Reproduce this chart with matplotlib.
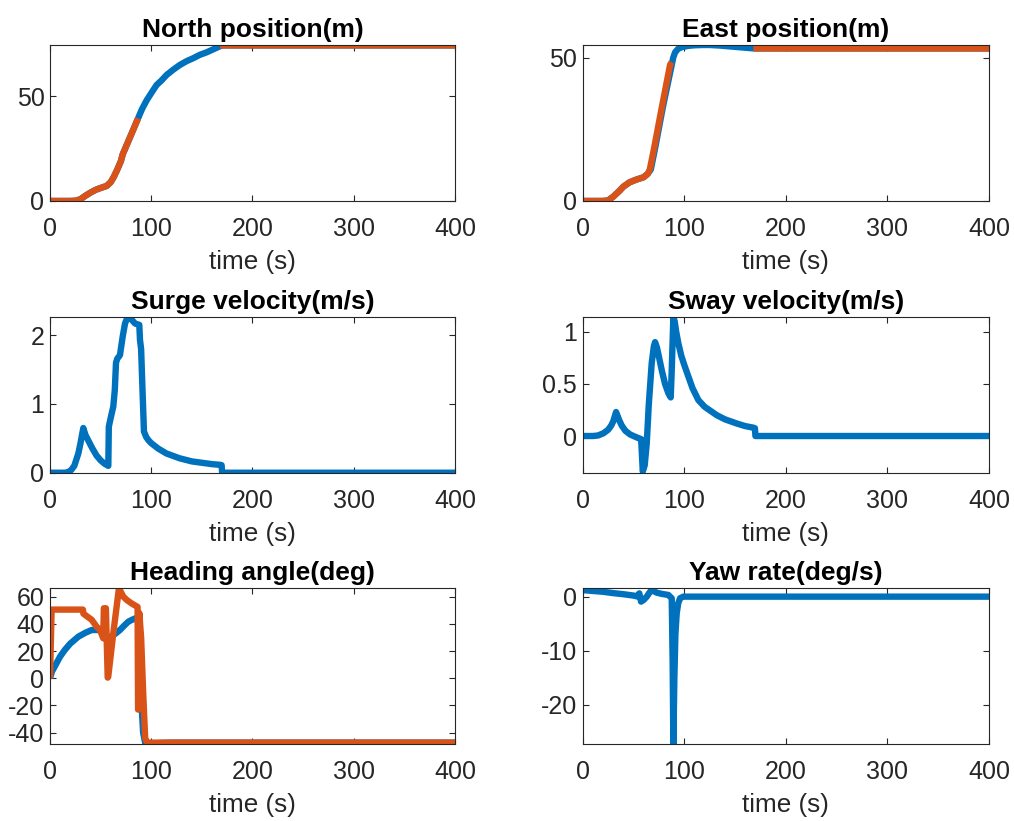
import numpy as np
import matplotlib
matplotlib.use("Agg")
import matplotlib.pyplot as plt
from matplotlib.ticker import FuncFormatter

plt.rcParams['font.family'] = ['Liberation Sans', 'DejaVu Sans']
plt.rcParams['axes.unicode_minus'] = False

BLUE = "#0072BD"
ORANGE = "#D95319"
nan = np.nan

# North position (m)
t_north = [0, 10, 20, 25, 30, 35, 40, 45, 50, 56, 60, 63, 66, 70, 72, 76, 80, 87, 91, 95.5,
           100, 105.3, 110, 115.2, 122, 128.4, 135, 141.5, 148, 154.7, 162, 167.9, 170, 400]
north = [0, 0, 0, 0.1, 0.8, 2.5, 4.0, 5.3, 6.2, 7.2, 9.0, 11.5, 14.5, 19, 22.5, 27, 31.5, 39.5, 44, 48.1,
         51.5, 55.4, 57.5, 60.2, 62.8, 65.0, 66.8, 68.2, 69.8, 71.0, 72.6, 73.9, 74.3, 74.3]
t_north_ref = [0, 10, 20, 25, 30, 35, 40, 45, 50, 56, 60, 63, 66, 70, 72, 76, 80, 87, nan, 168, 400]
north_ref = [0, 0, 0, 0.1, 0.8, 2.5, 4.0, 5.3, 6.2, 7.2, 9.0, 11.5, 14.5, 19, 22.5, 27, 31.5, 39.5, nan, 74.3, 74.3]

# East position (m)
t_east = [0, 10, 20, 25, 30, 36, 40, 46, 53, 60, 64, 67, 71, 79, 87, 89, 91, 94, 98, 104, 110,
          118, 125, 135, 145, 155, 165, 169, 400]
east = [0, 0, 0, 0.2, 1.5, 3.5, 5, 6.5, 7.5, 8.3, 9.5, 11, 18, 33, 46.5, 50, 52, 53.2, 53.8, 54.2, 54.4,
        54.5, 54.5, 54.3, 54.0, 53.7, 53.4, 53.3, 53.3]
t_east_ref = [0, 10, 20, 25, 30, 36, 40, 46, 53, 60, 64, 66, 70, 74, 78, 82, 86, 87.5, nan, 168, 400]
east_ref = [0, 0, 0, 0.2, 1.5, 3.5, 5, 6.5, 7.5, 8.3, 9.5, 11, 18, 25.5, 33, 40.3, 47.6, 48.5, nan, 53.3, 53.3]

# Surge velocity (m/s)
t_surge = [0, 10, 15, 18, 21, 24, 28, 30, 32.9, 35, 37.8, 42, 46, 50, 54, 57.6, 58.1, 60, 62.5, 64,
           65.2, 66.5, 69.1, 71.8, 74.1, 76, 78.3, 81, 84, 88.2, 88.9, 90, 91.5, 92.8, 95, 97.1, 100,
           107, 115, 128, 140, 150, 160, 168, 169.5, 170, 400]
surge = [0, 0, 0, 0.01, 0.04, 0.1, 0.28, 0.42, 0.65, 0.55, 0.47, 0.35, 0.25, 0.18, 0.13, 0.1, 0.67, 0.8,
         0.96, 1.2, 1.6, 1.66, 1.71, 1.98, 2.17, 2.24, 2.26, 2.22, 2.17, 2.15, 1.93, 1.8, 1.15, 0.6, 0.52,
         0.475, 0.43, 0.35, 0.28, 0.21, 0.165, 0.145, 0.125, 0.115, 0.11, 0, 0]

# Sway velocity (m/s)
t_sway = [0, 10, 15, 20.3, 25, 28, 30, 32.8, 34, 36, 38.4, 42, 46.6, 50, 54.8, 57.5, 59.1, 61, 63, 65,
          67.9, 70, 71.2, 73, 75, 77.8, 81, 84.3, 86.6, 87.5, 89.2, 90.5, 92, 94.1, 97, 100, 104, 108,
          113.8, 120, 131.9, 140, 151.6, 160, 168, 169.5, 170, 400]
sway = [0, 0, 0.005, 0.026, 0.06, 0.1, 0.14, 0.23, 0.2, 0.15, 0.1, 0.05, 0.015, 0, -0.02, -0.03, -0.34,
        -0.28, -0.07, 0.3, 0.7, 0.86, 0.9, 0.85, 0.76, 0.63, 0.5, 0.41, 0.37, 0.6, 1.14, 1.1, 1.0, 0.89,
        0.77, 0.68, 0.57, 0.46, 0.345, 0.28, 0.2, 0.16, 0.12, 0.095, 0.08, 0.075, 0, 0]

# Heading angle (deg)
t_head = [0, 2, 4.9, 10, 14.8, 20, 28, 35, 41.2, 49.4, 54.3, 57, 61, 65, 69.1, 73, 77.3, 81, 84, 86,
          88, 89, 90.5, 92, 94, 97, 100, 105, 110, 120, 400]
head = [0, 5, 9, 16, 21, 25.5, 30.6, 33.5, 35.5, 35.5, 31.5, 30, 31, 33, 35.5, 38.5, 41.6, 43, 44, 44,
        38, 20, -20, -40, -47.5, -48.3, -48.2, -47.8, -47.5, -47.3, -47.3]
t_head_ref = [0, 0.8, 1.6, 32.5, 33, 41.2, 46, 49.4, 52.6, 53.2, 55.2, 57, 57.5, 62.5, 68.1, 72.4,
              76, 80.7, 86.5, 87, 87.5, 88.2, 90, 92, 94, 96, 400]
head_ref = [0, 25, 50.5, 50.5, 47.5, 43, 38, 35.5, 29.4, 51.5, 51.5, 0.5, 1, 33, 66.2, 60, 57.5, 55,
            52.5, -23, -23, 48, 30, -10, -44, -47.3, -47.3]

# Yaw rate (deg/s)
t_yaw = [0, 0.6, 10, 20, 30, 40, 50, 53.2, 55.7, 57.4, 60, 63, 65.5, 67.9, 70, 72.8, 78, 84.3, 87.6,
         88.5, 89.2, 90.2, 91.2, 92.5, 94, 95.8, 99, 400]
yaw = [1.4, 1.2, 1.05, 0.9, 0.65, 0.45, 0.2, 0.05, 0.6, -0.92, -0.6, 0, 0.7, 1.25, 1.0, 0.74, 0.5,
       0.31, -0.3, -12, -27.2, -15, -7, -3.1, -1.2, -0.3, 0, 0]

panels = [
    ("North position(m)", [(t_north, north, BLUE), (t_north_ref, north_ref, ORANGE)], (0, 74.5), [0, 50]),
    ("East position(m)", [(t_east, east, BLUE), (t_east_ref, east_ref, ORANGE)], (0, 54.5), [0, 50]),
    ("Surge velocity(m/s)", [(t_surge, surge, BLUE)], (0, 2.26), [0, 1, 2]),
    ("Sway velocity(m/s)", [(t_sway, sway, BLUE)], (-0.352, 1.138), [0, 0.5, 1]),
    ("Heading angle(deg)", [(t_head, head, BLUE), (t_head_ref, head_ref, ORANGE)], (-48.3, 66.2),
     [-40, -20, 0, 20, 40, 60]),
    ("Yaw rate(deg/s)", [(t_yaw, yaw, BLUE)], (-27.2, 1.55), [-20, -10, 0]),
]

fig = plt.figure(figsize=(10.14, 8.21), dpi=100)
lefts = [0.0493, 0.5747]
widths = [0.3994, 0.4007]
bottoms = [0.7552, 0.4242, 0.0938]
heights = [0.190, 0.1893, 0.1897]

for i, (title, series, ylim, yticks) in enumerate(panels):
    r, c = divmod(i, 2)
    ax = fig.add_axes([lefts[c], bottoms[r], widths[c], heights[r]])
    for t, y, col in series:
        ax.plot(t, y, color=col, lw=4.6, solid_capstyle='butt', solid_joinstyle='round')
    ax.set_xlim(0, 400)
    ax.set_ylim(*ylim)
    ax.set_xticks([0, 100, 200, 300, 400])
    ax.set_yticks(yticks)
    ax.yaxis.set_major_formatter(FuncFormatter(lambda v, p: "%g" % v))
    ax.tick_params(direction='in', length=4, width=0.8, top=True, right=True,
                   labelsize=18, colors='#262626')
    ax.tick_params(axis='x', pad=11.5)
    ax.tick_params(axis='y', pad=4)
    for s in ax.spines.values():
        s.set_color('#262626')
        s.set_linewidth(0.8)
    ax.set_title(title, fontsize=19, fontweight='bold', color='black', pad=6)
    ax.set_xlabel("time (s)", fontsize=18.8, color='#262626', labelpad=6.5)

fig.savefig("out.png", dpi=100)
